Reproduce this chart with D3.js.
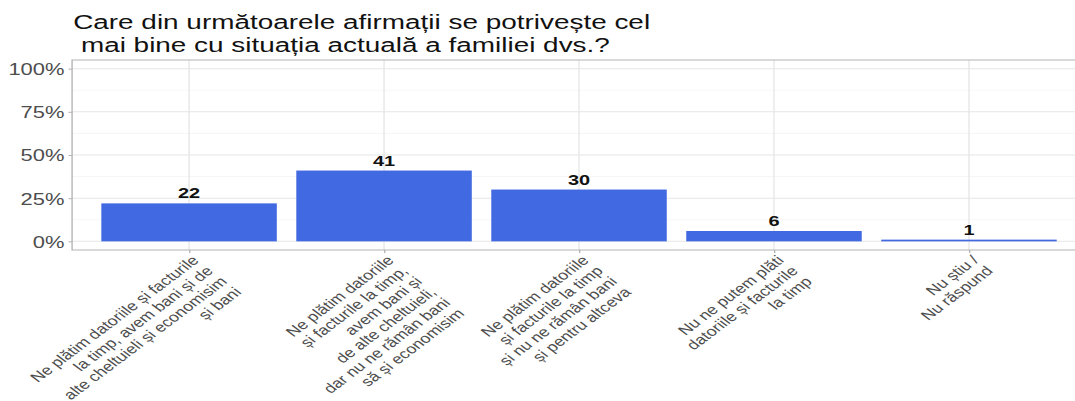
<!DOCTYPE html>
<html><head><meta charset="utf-8">
<script src="https://cdn.jsdelivr.net/npm/d3@7"></script>
<style>body{margin:0;background:#fff;overflow:hidden}svg{display:block}</style>
</head><body>
<script>
const categories = [
  ["Ne plătim datoriile și facturile","la timp, avem bani și de","alte cheltuieli și economisim","și bani"],
  ["Ne plătim datoriile","și facturile la timp,","avem bani și","de alte cheltuieli,","dar nu ne rămân bani","să și economisim"],
  ["Ne plătim datoriile","și facturile la timp","și nu ne rămân bani","și pentru altceva"],
  ["Nu ne putem plăti","datoriile și facturile","la timp"],
  ["Nu știu /","Nu răspund"]
];
const values = [22, 41, 30, 6, 1];
const yTicks = [0, 25, 50, 75, 100];
const yMinor = [12.5, 37.5, 62.5, 87.5];
const titleLines = ["Care din următoarele afirmații se potrivește cel", " mai bine cu situația actuală a familiei dvs.?"];

(function(){
const W = 1075, H = 401;
const S = 1.33;              // horizontal stretch of the picture
const FONT = "Liberation Sans, Arial, Helvetica, sans-serif";
const svg = d3.select("body").append("svg").attr("width", W).attr("height", H);
const root = svg.append("g").attr("transform", `scale(${S},1)`);

const pL = 54.2, pR = 816.5, pT = 60, pB = 250;
const ids = d3.range(categories.length);
const step = (pR - pL) / (categories.length - 1 + 1.2);
const x = d3.scalePoint().domain(ids).range([pL + 0.6*step, pR - 0.6*step]);
const bw = 0.9 * step;
const y = d3.scaleLinear().domain([-5, 105]).range([pB, pT]);

const g = root.append("g");
g.selectAll(".minor").data(yMinor).join("line")
  .attr("x1", pL).attr("x2", pR).attr("y1", d=>y(d)).attr("y2", d=>y(d))
  .attr("stroke", "#f2f2f2").attr("stroke-width", 0.6);
g.selectAll(".major").data(yTicks).join("line")
  .attr("x1", pL).attr("x2", pR).attr("y1", d=>y(d)).attr("y2", d=>y(d))
  .attr("stroke", "#e6e6e6").attr("stroke-width", 1);
g.selectAll(".vmajor").data(ids).join("line")
  .attr("x1", d=>x(d)).attr("x2", d=>x(d)).attr("y1", pT).attr("y2", pB)
  .attr("stroke", "#e6e6e6").attr("stroke-width", 1);

g.selectAll(".bar").data(values).join("rect")
  .attr("x", (d,i)=>x(i)-bw/2).attr("width", bw)
  .attr("y", d=>y(d)).attr("height", d=>y(0)-y(d))
  .attr("fill", "#4169E1");

g.append("rect").attr("x", pL).attr("y", pT).attr("width", pR-pL).attr("height", pB-pT)
  .attr("fill", "none").attr("stroke", "#b3b3b3").attr("stroke-width", 1);

const yAxis = d3.axisLeft(y).tickValues(yTicks).tickSize(2.7).tickPadding(3).tickFormat(d=>d+"%");
const ya = root.append("g").attr("transform", `translate(${pL},0)`).call(yAxis);
ya.select(".domain").remove();
ya.selectAll(".tick line").attr("stroke", "#b3b3b3");
ya.selectAll(".tick text").attr("fill", "#4d4d4d").attr("font-family", FONT)
  .attr("font-size", 16.5).attr("dy", "0.36em");

const xAxis = d3.axisBottom(x).tickSize(3).tickFormat("");
const xa = root.append("g").attr("transform", `translate(0,${pB})`).call(xAxis);
xa.select(".domain").remove();
xa.selectAll(".tick line").attr("stroke", "#b3b3b3");

const fs = 13.5, lh = 15, ang = -45;
categories.forEach((lines, i) => {
  const t = root.append("text")
    .attr("transform", `translate(${x(i)+1},${pB+4}) rotate(${ang})`)
    .attr("font-family", FONT).attr("font-size", fs)
    .attr("fill", "#4d4d4d").attr("text-anchor", "end");
  lines.forEach((ln, j) => {
    t.append("tspan").attr("x", 0).attr("y", fs*0.75 + j*lh).text(ln);
  });
});

root.selectAll(".val").data(values).join("text")
  .attr("x", (d,i)=>x(i)).attr("y", d=>y(d)-5)
  .attr("text-anchor", "middle").attr("font-family", FONT)
  .attr("font-weight", "bold").attr("font-size", 15).attr("fill", "#111")
  .text(d=>d);

const tt = root.append("text").attr("font-family", FONT)
  .attr("font-size", 21).attr("fill", "#111");
titleLines.forEach((ln, j) => {
  tt.append("tspan").attr("x", 55).attr("y", 29 + j*23).style("white-space","pre").text(ln);
});
})();
</script>
</body></html>
